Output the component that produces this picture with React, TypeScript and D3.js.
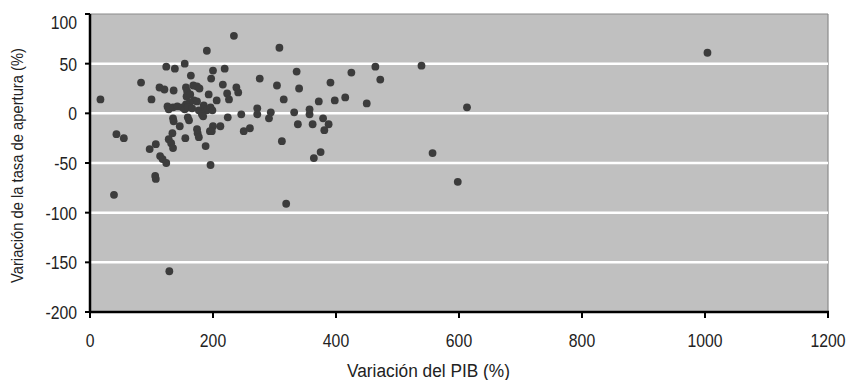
import React, { useEffect, useRef } from 'react';
import * as d3 from 'd3';

// Variación del PIB (%) for each country
const pibVariation = [
  17, 43, 55, 39, 83, 100, 97, 107, 106, 107, 124, 113, 121, 126, 128, 114, 118, 124,
  134, 128, 132, 135, 129, 136, 138, 135, 136, 135, 142, 146,
  154, 156, 158, 168, 174, 178, 157, 163, 164, 169, 174, 162, 156, 150, 154, 159, 166,
  177, 185, 187, 190, 196, 199, 182, 184, 193, 161, 159, 174, 175, 177, 200, 198, 195,
  212, 155, 188, 196, 190, 200, 197, 206, 219, 216, 223, 226, 224, 234, 238, 241, 246,
  250, 260,
  308, 336, 276, 304, 340, 315, 372, 398, 415, 450, 391, 425, 464, 472, 539, 272, 272,
  294, 291, 332, 357, 357, 379, 338, 362, 388, 381, 312, 364, 375, 319, 557, 613, 598,
  1004,
];

// Variación de la tasa de apertura (%) for the same countries
const opennessVariation = [
  14, -21, -25, -82, 31, 14, -36, -31, -63, -66, 47, 26, 24, 7, 4, -43, -46, -50,
  -20, -26, -30, -35, -159, 23, 45, -5, -8, 6, 7, -13,
  50, 26, 22, 28, 27, 25, 17, 19, 38, 13, 12, 11, 9, 6, 4, 6, 5,
  3, 8, 4, 3, 6, 3, -1, -3, 19, -7, -4, -16, -20, -24, -13, -18, -18,
  -13, -25, -33, -52, 63, 43, 35, 13, 45, 29, 20, 14, -4, 78, 26, 21, -1,
  -18, -15,
  66, 42, 35, 28, 25, 14, 12, 13, 16, 10, 31, 41, 47, 34, 48, 5, -1,
  1, -5, 1, 4, -1, -5, -11, -11, -11, -17, -28, -45, -39, -91, -40, 6, -69,
  61,
];

const xTicks = [0, 200, 400, 600, 800, 1000, 1200];
const yTicks = [100, 50, 0, -50, -100, -150, -200];
const gridValues = [50, 0, -50, -100, -150];

// no condensed font installed, so Liberation Sans is squeezed horizontally
const FONT = '"Liberation Sans", Arial, sans-serif';
const SQUEEZE = 0.83;

function App() {
  const svgRef = useRef<SVGSVGElement>(null);

  useEffect(() => {
    const width = 849;
    const height = 380;
    const left = 90;
    const right = 828;
    const top = 14;
    const bottom = 312;

    const svg = d3.select(svgRef.current)
      .attr('width', width)
      .attr('height', height);
    svg.selectAll('*').remove();

    const x = d3.scaleLinear().domain([0, 1200]).range([left, right]);
    const y = d3.scaleLinear().domain([-200, 100]).range([bottom, top]);

    // plot background with thin gray frame on top and right
    svg.append('rect')
      .attr('x', left)
      .attr('y', top)
      .attr('width', right - left)
      .attr('height', bottom - top)
      .attr('fill', '#c0c0c0');
    svg.append('line')
      .attr('x1', left).attr('x2', right)
      .attr('y1', top).attr('y2', top)
      .attr('stroke', '#8a8a8a').attr('stroke-width', 1.2);
    svg.append('line')
      .attr('x1', right).attr('x2', right)
      .attr('y1', top).attr('y2', bottom)
      .attr('stroke', '#8a8a8a').attr('stroke-width', 1.2);

    // white gridlines
    svg.append('g')
      .selectAll('line')
      .data(gridValues)
      .enter()
      .append('line')
      .attr('x1', left)
      .attr('x2', right)
      .attr('y1', d => y(d))
      .attr('y2', d => y(d))
      .attr('stroke', '#ffffff')
      .attr('stroke-width', 2.5);

    // points
    const points = pibVariation.map((v, i) => ({ x: v, y: opennessVariation[i] }));
    svg.append('g')
      .selectAll('circle')
      .data(points)
      .enter()
      .append('circle')
      .attr('cx', d => x(d.x))
      .attr('cy', d => y(d.y))
      .attr('r', 3.9)
      .attr('fill', '#3c3c3c');

    // axes
    svg.append('line')
      .attr('x1', left).attr('x2', left)
      .attr('y1', top).attr('y2', bottom + 1)
      .attr('stroke', '#000').attr('stroke-width', 2.5);
    svg.append('line')
      .attr('x1', left - 1).attr('x2', right + 1)
      .attr('y1', bottom).attr('y2', bottom)
      .attr('stroke', '#000').attr('stroke-width', 2.5);

    const yAxis = svg.append('g');
    yAxis.selectAll('line')
      .data(yTicks)
      .enter()
      .append('line')
      .attr('x1', left - 5)
      .attr('x2', left)
      .attr('y1', d => y(d))
      .attr('y2', d => y(d))
      .attr('stroke', '#000')
      .attr('stroke-width', 2);
    yAxis.selectAll('text')
      .data(yTicks)
      .enter()
      .append('text')
      .attr('transform', d => `translate(77,${d === 100 ? y(d) + 8 : y(d)}) scale(${SQUEEZE},1)`)
      .attr('dy', '0.36em')
      .attr('text-anchor', 'end')
      .style('font-family', FONT)
      .style('font-size', '19px')
      .style('fill', '#222')
      .text(d => d);

    const xAxis = svg.append('g');
    xAxis.selectAll('line')
      .data(xTicks)
      .enter()
      .append('line')
      .attr('x1', d => x(d))
      .attr('x2', d => x(d))
      .attr('y1', bottom)
      .attr('y2', bottom + 6)
      .attr('stroke', '#000')
      .attr('stroke-width', 2);
    xAxis.selectAll('text')
      .data(xTicks)
      .enter()
      .append('text')
      .attr('transform', d => `translate(${x(d)},347) scale(${SQUEEZE},1)`)
      .attr('text-anchor', 'middle')
      .style('font-family', FONT)
      .style('font-size', '19px')
      .style('fill', '#222')
      .text(d => d);

    // axis titles
    svg.append('text')
      .attr('x', 347)
      .attr('y', 377)
      .attr('textLength', 163)
      .attr('lengthAdjust', 'spacingAndGlyphs')
      .style('font-family', FONT)
      .style('font-size', '18px')
      .style('fill', '#222')
      .text('Variación del PIB (%)');

    svg.append('text')
      .attr('transform', 'translate(23,283) rotate(-90)')
      .attr('textLength', 235)
      .attr('lengthAdjust', 'spacingAndGlyphs')
      .style('font-family', FONT)
      .style('font-size', '17px')
      .style('fill', '#222')
      .text('Variación de la tasa de apertura (%)');
  }, []);

  return (
    <svg
      ref={svgRef}
      style={{ position: 'absolute', left: 0, top: 0, display: 'block', background: '#fff' }}
    />
  );
}

export default App;
